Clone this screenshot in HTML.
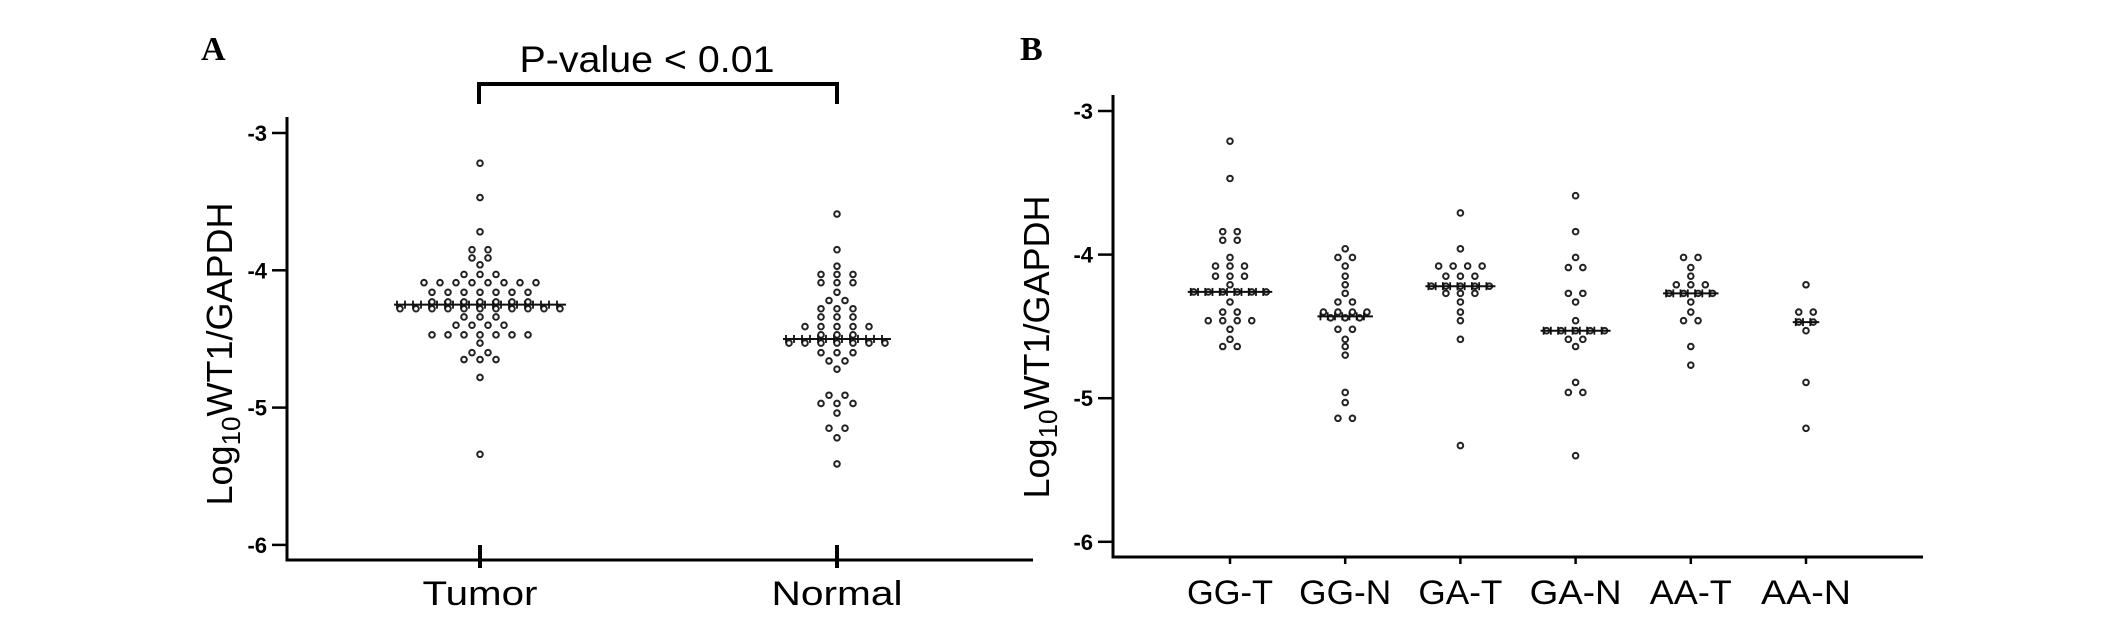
<!DOCTYPE html>
<html><head><meta charset="utf-8"><style>
html,body{margin:0;padding:0;background:#fff;}
svg{display:block;}
text{font-family:"Liberation Sans",sans-serif;}
</style></head><body>
<svg id="fig" width="2126" height="619" viewBox="0 0 2126 619" xmlns="http://www.w3.org/2000/svg">
<g id="panelA"></g>
<g id="panelB"></g>
</svg>
<script>
// ---- Panel A data ----
const catsA = ["Tumor","Normal"];
const tumorVals = [-3.22,-3.47,-3.72,-3.85,-3.85,-3.91,-3.91,-3.96,-4.03,-4.03,-4.03,
 -4.09,-4.09,-4.09,-4.09,-4.09,-4.09,-4.09,-4.09,
 -4.16,-4.16,-4.16,-4.16,-4.16,-4.16,-4.16,
 -4.23,-4.23,-4.23,-4.23,-4.23,-4.23,-4.23,
 -4.28,-4.28,-4.28,-4.28,-4.28,-4.28,-4.28,-4.28,-4.28,-4.28,-4.28,
 -4.34,-4.34,-4.34,-4.40,-4.40,-4.40,-4.40,
 -4.47,-4.47,-4.47,-4.47,-4.47,-4.47,-4.47,
 -4.53,-4.60,-4.60,-4.65,-4.65,-4.65,-4.78,-5.34];
const normalVals = [-3.59,-3.85,-3.97,-4.03,-4.03,-4.03,-4.09,-4.09,-4.09,-4.16,
 -4.22,-4.22,-4.28,-4.28,-4.28,-4.34,-4.34,-4.34,-4.41,-4.41,-4.41,-4.41,-4.41,
 -4.47,-4.47,-4.47,-4.53,-4.53,-4.53,-4.53,-4.53,-4.53,-4.53,
 -4.60,-4.60,-4.60,-4.66,-4.66,-4.72,-4.91,-4.91,-4.97,-4.97,-4.97,-5.04,
 -5.15,-5.15,-5.22,-5.41];
const mediansA = [-4.25,-4.50];
const yTicksA = [-3,-4,-5,-6];

// ---- Panel B data ----
const catsB = ["GG-T","GG-N","GA-T","GA-N","AA-T","AA-N"];
const ggT = [-3.21,-3.47,-3.84,-3.84,-3.90,-3.90,-4.02,-4.08,-4.08,-4.08,-4.15,-4.15,-4.15,-4.21,
 -4.26,-4.26,-4.26,-4.26,-4.26,-4.26,-4.33,-4.40,-4.40,-4.46,-4.46,-4.46,-4.46,-4.52,-4.59,-4.64,-4.64];
const ggN = [-3.96,-4.02,-4.02,-4.08,-4.15,-4.21,-4.27,-4.33,-4.33,-4.40,-4.40,-4.40,-4.40,
 -4.44,-4.44,-4.44,-4.52,-4.52,-4.59,-4.64,-4.70,-4.96,-5.03,-5.14,-5.14];
const gaT = [-3.71,-3.96,-4.08,-4.08,-4.08,-4.08,-4.15,-4.15,-4.15,-4.22,-4.22,-4.22,-4.22,-4.22,
 -4.27,-4.27,-4.27,-4.33,-4.40,-4.46,-4.59,-5.33];
const gaN = [-3.59,-3.84,-4.02,-4.09,-4.09,-4.27,-4.27,-4.33,-4.46,-4.53,-4.53,-4.53,-4.53,-4.53,
 -4.59,-4.59,-4.64,-4.89,-4.96,-4.96,-5.40];
const aaT = [-4.02,-4.02,-4.09,-4.15,-4.21,-4.21,-4.21,-4.27,-4.27,-4.27,-4.27,-4.33,-4.40,-4.46,-4.46,-4.64,-4.77];
const aaN = [-4.21,-4.40,-4.40,-4.47,-4.47,-4.53,-4.89,-5.21];
const mediansB = [-4.26,-4.43,-4.22,-4.53,-4.27,-4.47];
const yTicksB = [-3,-4,-5,-6];

const NS = "http://www.w3.org/2000/svg";
function mk(tag, attrs, parent){
  const e = document.createElementNS(NS, tag);
  for (const k in attrs) e.setAttribute(k, attrs[k]);
  parent.appendChild(e);
  return e;
}

function drawPanel(g, cfg){
  const yS = v => cfg.y0 + (cfg.vTop - v) * cfg.unit;
  const xS = i => cfg.cx0 + i * cfg.step;
  const ya = mk("line",{x1:cfg.ax,y1:cfg.axTop,x2:cfg.ax,y2:cfg.axBot,stroke:"#000","stroke-width":3},g);
  
  
  const xa = mk("line",{x1:cfg.ax-1.5,y1:cfg.axBot,x2:cfg.axRight,y2:cfg.axBot,stroke:"#000","stroke-width":3},g);
  
  
  cfg.yTicks.forEach(t=>{
    const y = yS(t);
    const tk = mk("line",{x1:cfg.ax-15,y1:y,x2:cfg.ax,y2:y,stroke:"#000","stroke-width":2.5},g);
    
    
    const tl = mk("text",{x:cfg.ax-20,y:y+8,"text-anchor":"end","font-size":22,"font-weight":"bold"},g);
    tl.textContent = String(t);
    
    
  });
  const yt = mk("text",{x:0,y:0,"font-size":36,transform:`translate(${cfg.titleX},${cfg.titleY}) rotate(-90)`,"text-anchor":"middle"},g);
  
  
  const t1 = mk("tspan",{},yt); t1.textContent="Log";
  const t2 = mk("tspan",{"font-size":26,dy:8},yt); t2.textContent="10";
  const t3 = mk("tspan",{dy:-8},yt); t3.textContent="WT1/GAPDH";
  cfg.cats.forEach((c,i)=>{
    const x = xS(i);
    const xt = mk("line",{x1:x,y1:cfg.axBot+cfg.xtUp,x2:x,y2:cfg.axBot+cfg.xtDown,stroke:"#000","stroke-width":cfg.xtW},g);
    
    
    const lb = mk("text",{x:x,y:cfg.labY,"text-anchor":"middle","font-size":34,textLength:cfg.labW[i],lengthAdjust:"spacingAndGlyphs"},g);
    lb.textContent = c;
    
    
    const vals = cfg.series[i];
    const rows = {};
    vals.forEach(v=>{ const k=v.toFixed(2); rows[k]=(rows[k]||0)+1; });
    let maxN = 1;
    Object.keys(rows).forEach(k=>{
      const n = rows[k]; if(n>maxN) maxN=n;
      for(let j=0;j<n;j++){
        const cxp = x + (j-(n-1)/2)*cfg.sp;
        const d = mk("circle",{cx:cxp,cy:yS(parseFloat(k)),r:2.8,fill:"#fff",stroke:"#222","stroke-width":2.0},g);
        
        
      }
    });
    const half = (maxN-1)/2*cfg.sp + 6;
    const my = yS(cfg.medians[i]);
    const ml = mk("line",{x1:x-half,y1:my,x2:x+half,y2:my,stroke:"#111","stroke-width":2},g);
    
    
    for(let p=-half+3;p<=half-3;p+=cfg.sp/2){
      const pt = mk("line",{x1:x+p,y1:my-4,x2:x+p,y2:my+4,stroke:"#111","stroke-width":1.8},g);
      
      
    }
  });
}

drawPanel(document.getElementById('panelA'),{
  vTop:-3, y0:133, unit:137.3, ax:287, axTop:117, axBot:560, axRight:1033,
  cx0:480, step:357, cats:catsA, series:[tumorVals,normalVals], medians:mediansA,
  yTicks:yTicksA, sp:16, xtUp:-15, xtDown:8, xtW:4, labY:605, labW:[115,131],
  titleX:232, titleY:354
});
drawPanel(document.getElementById('panelB'),{
  vTop:-3, y0:111, unit:143.6, ax:1113, axTop:95, axBot:557, axRight:1923,
  cx0:1230, step:115.2, cats:catsB, series:[ggT,ggN,gaT,gaN,aaT,aaN], medians:mediansB,
  yTicks:yTicksB, sp:14.5, xtUp:0, xtDown:7, xtW:2.5, labY:604, labW:[86,92,84,92,82,90],
  titleX:1049, titleY:347
});

const svg = document.getElementById('fig');
const br = mk("polyline",{points:"479,104 479,84 837,84 837,104",fill:"none",stroke:"#000","stroke-width":4},svg);


const pv = mk("text",{x:647,y:72,"text-anchor":"middle","font-size":37,textLength:255,lengthAdjust:"spacingAndGlyphs"},svg);
pv.textContent = "P-value < 0.01";


const la = mk("text",{x:201,y:60,"font-size":34,"font-weight":"bold",style:"font-family:'Liberation Serif',serif"},svg);
la.textContent = "A";


const lbB = mk("text",{x:1020,y:60,"font-size":34,"font-weight":"bold",style:"font-family:'Liberation Serif',serif"},svg);
lbB.textContent = "B";


</script>
</body></html>
